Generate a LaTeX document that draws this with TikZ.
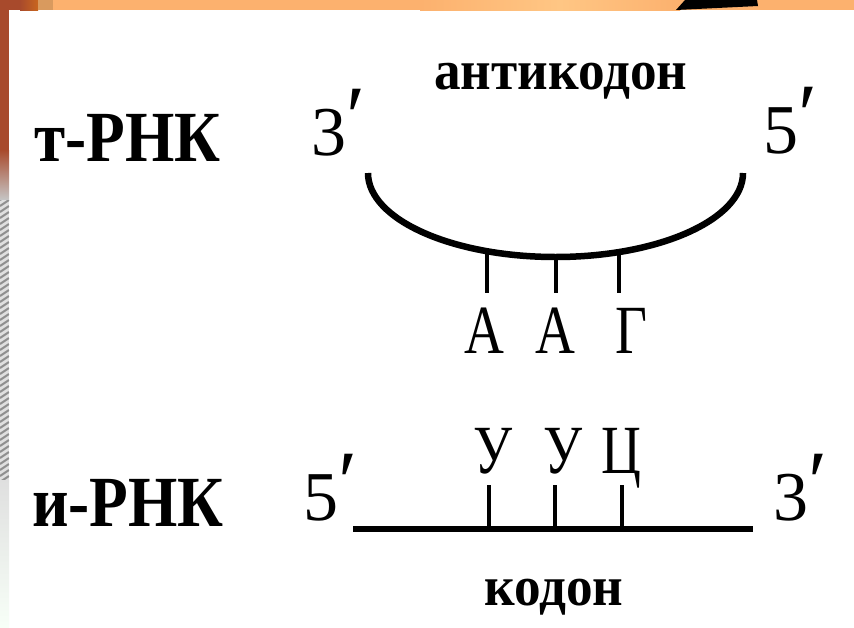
\documentclass[tikz,border=0pt]{standalone}
\usepackage{fontspec}
\setmainfont{Liberation Serif}
\newfontfamily\fMain{Liberation Serif}
\newfontfamily\fLab{Liberation Serif}[FakeStretch=0.88]
\newfontfamily\fBase{Liberation Serif}[FakeStretch=0.8]
\newfontfamily\fWord{Liberation Serif}[FakeStretch=0.95]
\newcommand\myprime{\raisebox{9pt}{\scalebox{1.25}{′}}}
\definecolor{brownA}{HTML}{A84A2C}
\definecolor{brownB}{HTML}{C9661F}
\definecolor{tanC}{HTML}{D99A5E}
\definecolor{orgD}{HTML}{FCB16E}
\definecolor{orgE}{HTML}{FFC684}
\definecolor{stripeG}{HTML}{8F8F8F}
\begin{document}
\begin{tikzpicture}[x=1pt,y=-1pt,
  lab/.style={inner sep=0, anchor=base west, font=\fLab\bfseries\fontsize{72}{72}\selectfont},
  ends/.style={inner sep=0, anchor=base west, font=\fMain\fontsize{70}{70}\selectfont},
  baseletter/.style={inner sep=0, anchor=base, font=\fBase\fontsize{69}{69}\selectfont},
  word/.style={inner sep=0, anchor=base, font=\fWord\bfseries\fontsize{56}{56}\selectfont},
  strand/.style={line width=6.5pt},
  pairline/.style={line width=4.5pt}]
\useasboundingbox (0,0) rectangle (854,627);
\fill[white] (0,0) rectangle (854,627);
% slide frame: top strip
\fill[brownA] (0,0) rectangle (20,10);
\shade[left color=brownA, right color=brownB] (20,0) rectangle (38,10);
\fill[tanC] (38,0) rectangle (53,10);
\fill[orgD] (53,0) rectangle (854,10);
\shade[left color=orgD, right color=orgE] (420,0) rectangle (560,10);
\shade[left color=orgE, right color=orgD] (560,0) rectangle (680,10);
\fill[black] (685,0) -- (757,0) -- (758,6) -- (676,10) -- cycle;
% left strip
\fill[brownA] (0,0) rectangle (9,150);
\shade[top color=brownA, bottom color=gray!45] (0,150) rectangle (9,200);
\fill[gray!25] (0,200) rectangle (9,480);
\begin{scope}
  \clip (0,200) rectangle (9,480);
  \foreach \k in {0,6,...,300} { \draw[stripeG, line width=2pt] (0,200+\k) -- (9,194+\k); }
\end{scope}
\shade[top color=gray!25, bottom color=green!3] (0,480) rectangle (9,627);

% labels
\node[lab] (tRNA) at (34,161) {т-РНК};
\node[lab] (mRNA) at (32,526) {и-РНК};

% tRNA
\node[ends] (t3) at (311,155) {3\myprime};
\node[ends] (t5) at (763,153) {5\myprime};
\node[word] (anticodon) at (561,89) {антикодон};
\coordinate (arcL) at (368,173);
\draw[strand] (arcL) arc[start angle=180, end angle=0, x radius=187.5, y radius=84] coordinate (arcR);
\coordinate (a1t) at (487,251);
\coordinate (a2t) at (556,257);
\coordinate (a3t) at (619,252);
\coordinate (a1b) at (487,293);
\coordinate (a2b) at (556,293);
\coordinate (a3b) at (619,293);
\draw[pairline] (a1t) -- (a1b);
\draw[pairline] (a2t) -- (a2b);
\draw[pairline] (a3t) -- (a3b);
\node[baseletter] (bA1) at (484,353) {А};
\node[baseletter] (bA2) at (555,353) {А};
\node[baseletter] (bG) at (631,353) {Г};

% mRNA
\node[ends] (m5) at (303,520) {5\myprime};
\node[ends] (m3) at (773,520) {3\myprime};
\coordinate (lineL) at (353,529);
\coordinate (lineR) at (753,529);
\draw[strand] (lineL) -- (lineR);
\node[baseletter] (bU1) at (493,473) {У};
\node[baseletter] (bU2) at (563,473) {У};
\node[baseletter] (bC) at (621,473) {Ц};
\coordinate (u1t) at (489,485);
\coordinate (u2t) at (555,485);
\coordinate (u3t) at (622,485);
\coordinate (u1b) at (489,529);
\coordinate (u2b) at (555,529);
\coordinate (u3b) at (622,529);
\draw[pairline] (u1t) -- (u1b);
\draw[pairline] (u2t) -- (u2b);
\draw[pairline] (u3t) -- (u3b);
\node[word] (codon) at (554,605) {кодон};
\end{tikzpicture}
\end{document}
